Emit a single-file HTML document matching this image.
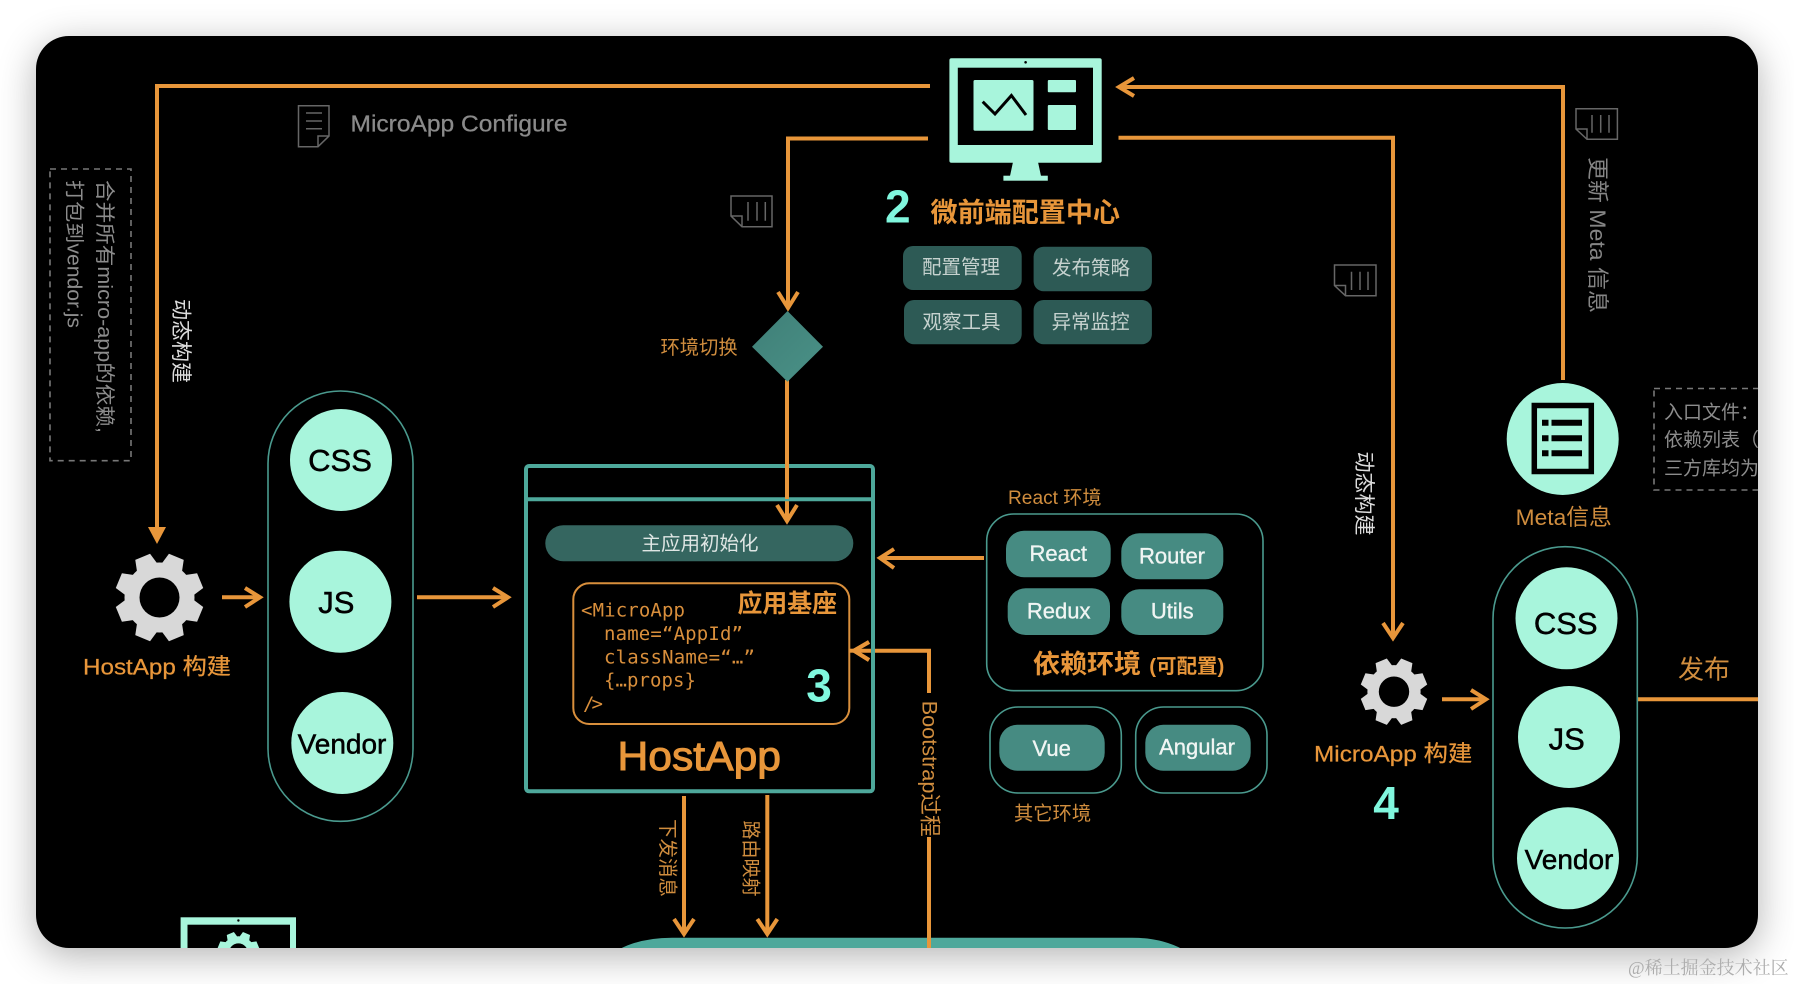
<!DOCTYPE html>
<html>
<head>
<meta charset="utf-8">
<style>
html,body{margin:0;padding:0;background:#fff;width:1794px;height:984px;overflow:hidden}
#panel{position:absolute;left:36px;top:36px;width:1722px;height:912px;background:#000;border-radius:33px;box-shadow:0 8px 38px rgba(0,0,0,.3);overflow:hidden}
#panel svg{position:absolute;left:-36px;top:-36px;filter:blur(.35px)}
#wm{position:absolute;left:1628px;top:954px;font:18px "Liberation Serif","Noto Serif CJK SC",serif;color:#adadad;white-space:nowrap}
text{font-family:"Liberation Sans","Noto Sans CJK SC",sans-serif}
.ln{fill:none;stroke:#e8963a;stroke-width:4}
.doc{fill:none;stroke:#666;stroke-width:1.5}
.oc{fill:#d08d3e}
.btn{fill:#468b82}
.bt{fill:#f0f5f3;font-size:22px;text-anchor:middle;stroke:#f0f5f3;stroke-width:.35}
.dk{fill:#2d5a55}
.dt{fill:#c6d2cf;font-size:19.5px;text-anchor:middle}
.mint{fill:#a8f5dc}
.ct{fill:#000;text-anchor:middle;stroke:#000;stroke-width:.5}
.big{fill:#80f7de;font-weight:bold;font-size:46px}
.code{font-family:"DejaVu Sans Mono","Liberation Mono",monospace;font-size:19px;fill:#d98f3c}
.org{fill:#e8963a}
.pill{fill:none;stroke:#4a9a8e;stroke-width:1.6}
</style>
</head>
<body>
<div id="panel">
<svg width="1794" height="984" viewBox="0 0 1794 984" xmlns="http://www.w3.org/2000/svg">
<defs>
<g id="gear">
<circle r="35"/>
<polygon points="-8,-44 8,-44 11.5,-30 -11.5,-30" transform="rotate(22.5)"/>
<polygon points="-8,-44 8,-44 11.5,-30 -11.5,-30" transform="rotate(67.5)"/>
<polygon points="-8,-44 8,-44 11.5,-30 -11.5,-30" transform="rotate(112.5)"/>
<polygon points="-8,-44 8,-44 11.5,-30 -11.5,-30" transform="rotate(157.5)"/>
<polygon points="-8,-44 8,-44 11.5,-30 -11.5,-30" transform="rotate(202.5)"/>
<polygon points="-8,-44 8,-44 11.5,-30 -11.5,-30" transform="rotate(247.5)"/>
<polygon points="-8,-44 8,-44 11.5,-30 -11.5,-30" transform="rotate(292.5)"/>
<polygon points="-8,-44 8,-44 11.5,-30 -11.5,-30" transform="rotate(337.5)"/>
<circle r="20" fill="#000"/>
</g>
<linearGradient id="dia" x1="0" y1="0" x2="1" y2="1"><stop offset="0" stop-color="#3f7f77"/><stop offset="1" stop-color="#4a9187"/></linearGradient>
</defs>

<!-- bottom band -->
<path d="M618 950 Q640 937.7 672 937.7 H1132 Q1162 937.7 1184 950 Z" fill="#4ea89b"/>

<!-- connectors -->
<polyline class="ln" points="930,86 157,86 157,530"/>
<polygon points="148,527 166,527 157,544" fill="#e8963a"/>
<polyline class="ln" points="928,138.5 788,138.5 788,308"/>
<polyline class="ln" points="778,292 788,308 798,292"/>
<line class="ln" x1="787" y1="380" x2="787" y2="520"/>
<polyline class="ln" points="777,505 787,521 797,505"/>
<polyline class="ln" points="1119,87 1563,87 1563,380"/>
<polyline class="ln" points="1134,78 1119,87 1134,96"/>
<polyline class="ln" points="1118.5,137.7 1393,137.7 1393,638"/>
<polyline class="ln" points="1383,623 1393,638 1403,623"/>
<line class="ln" x1="222" y1="597.3" x2="260" y2="597.3"/>
<polyline class="ln" points="245,588 260,597.3 245,607"/>
<line class="ln" x1="417" y1="597.3" x2="508" y2="597.3"/>
<polyline class="ln" points="493,588 508,597.3 493,607"/>
<line class="ln" x1="880" y1="558" x2="984" y2="558"/>
<polyline class="ln" points="894,549 880,558 894,568"/>
<polyline class="ln" points="854,650.7 929,650.7 929,693"/>
<polyline class="ln" points="869,642 854,650.7 869,660"/>
<line class="ln" x1="929" y1="837" x2="929" y2="950"/>
<line class="ln" x1="684" y1="796" x2="684" y2="934"/>
<polyline class="ln" points="674,919 684,934 694,919"/>
<line class="ln" x1="767.3" y1="795" x2="767.3" y2="934"/>
<polyline class="ln" points="757.3,919 767.3,934 777.3,919"/>
<line class="ln" x1="1442" y1="699.3" x2="1486" y2="699.3"/>
<polyline class="ln" points="1471,690 1486,699.3 1471,709"/>
<line class="ln" x1="1638" y1="699.3" x2="1760" y2="699.3"/>

<!-- main monitor -->
<rect x="949.4" y="58.3" width="152.3" height="104.4" rx="2" class="mint"/>
<polygon points="1013,162 1038,162 1041,176 1010,176" class="mint"/>
<rect x="1003.4" y="175.7" width="44.4" height="5" class="mint"/>
<rect x="957.8" y="67.7" width="135.2" height="77.3" fill="#000"/>
<circle cx="1025.6" cy="62.3" r="1.3" fill="#000"/>
<rect x="973.5" y="80" width="60" height="50.7" rx="1.5" class="mint"/>
<rect x="1047.8" y="80" width="28.2" height="12.3" rx="1" class="mint"/>
<rect x="1047.8" y="105" width="28.2" height="25" rx="1" class="mint"/>
<polyline points="982.7,101.7 995,114 1011.4,95.5 1026,115" fill="none" stroke="#000" stroke-width="3"/>

<!-- note icons -->
<path class="doc" d="M298.5 105.7H329V136L318 146.7H298.5Z M329 136H318V146.7 M306 113H322 M306 121H322 M306 128.7H322"/>
<path class="doc" d="M731 196H772V226.7H742L731 216Z M731 216H742V226.7 M748 202V220.7 M757 202V220.7 M765.3 202V220.7"/>
<path class="doc" d="M1576 108.7H1617.4V139.3H1587L1576 129Z M1576 129H1587V139.3 M1592 115V132.7 M1600.7 115V132.7 M1609 115V132.7"/>
<path class="doc" d="M1334.5 265H1376V295.7H1345.5L1334.5 285.5Z M1334.5 285.5H1345.5V295.7 M1351.5 271.7V290 M1360 271.7V290 M1368 271.7V290"/>

<text x="350.5" y="131.5" font-size="23.5" fill="#8a8a8a" stroke="#8a8a8a" stroke-width=".3" textLength="217" lengthAdjust="spacingAndGlyphs">MicroApp Configure</text>

<!-- left dashed box -->
<rect x="50" y="169" width="81" height="291.7" fill="none" stroke="#777" stroke-width="1.6" stroke-dasharray="6 5"/>
<text transform="translate(98,180) rotate(90)" font-size="20" fill="#8c8c8c" textLength="253" lengthAdjust="spacingAndGlyphs">合并所有micro-app的依赖,</text>
<text transform="translate(67.5,180) rotate(90)" font-size="20" fill="#8c8c8c" textLength="148" lengthAdjust="spacingAndGlyphs">打包到vendor.js</text>
<text transform="translate(174,299) rotate(90)" font-size="21" fill="#dcdcdc">动态构建</text>
<text transform="translate(1357,451.5) rotate(90)" font-size="21" fill="#dcdcdc">动态构建</text>
<text transform="translate(1590,157) rotate(90)" font-size="22" fill="#858585" textLength="156" lengthAdjust="spacingAndGlyphs">更新 Meta 信息</text>

<!-- title 2 -->
<text x="885" y="222.7" class="big">2</text>
<text x="930.5" y="222" font-size="27" font-weight="bold" class="org" textLength="189.5" lengthAdjust="spacingAndGlyphs">微前端配置中心</text>

<rect x="903" y="246" width="118.7" height="44" rx="10" class="dk"/>
<text x="961" y="273.5" class="dt">配置管理</text>
<rect x="1033.6" y="246.7" width="118.3" height="44.6" rx="10" class="dk"/>
<text x="1091" y="274.5" class="dt">发布策略</text>
<rect x="904" y="300" width="117.7" height="44.3" rx="10" class="dk"/>
<text x="961.5" y="328.5" class="dt">观察工具</text>
<rect x="1033.6" y="300" width="118.3" height="44.3" rx="10" class="dk"/>
<text x="1090.6" y="328.5" class="dt">异常监控</text>

<!-- diamond -->
<polygon points="787.5,311 823,346.7 787.5,381.7 752,346.7" fill="url(#dia)"/>
<text x="660.5" y="354" font-size="19.3" class="oc">环境切换</text>

<!-- meta -->
<circle cx="1562.7" cy="439" r="56" class="mint"/>
<rect x="1534.3" y="405.5" width="57" height="66" fill="none" stroke="#000" stroke-width="5.5"/>
<path d="M1542 419.7h6.5v6h-6.5z M1551.5 419.7h30.5v6h-30.5z M1542 435.3h6.5v6h-6.5z M1551.5 435.3h30.5v6h-30.5z M1542 450.3h6.5v6h-6.5z M1551.5 450.3h30.5v6h-30.5z" fill="#000"/>

<!-- right dashed box -->
<rect x="1654" y="388.5" width="150" height="101.5" fill="none" stroke="#777" stroke-width="1.6" stroke-dasharray="6 5"/>
<text x="1664" y="418.5" font-size="19" fill="#8c8c8c">入口文件：</text>
<text x="1664" y="446" font-size="19" fill="#8c8c8c">依赖列表（</text>
<text x="1664" y="474.5" font-size="19" fill="#8c8c8c">三方库均为</text>
<text x="1515.7" y="525" font-size="22.5" class="oc" textLength="96" lengthAdjust="spacingAndGlyphs">Meta信息</text>

<!-- left group -->
<use href="#gear" transform="translate(159.5,597.5)" fill="#d8d8d8"/>
<text x="83" y="674.7" font-size="22.5" class="org" stroke="#e8963a" stroke-width=".25" textLength="148" lengthAdjust="spacingAndGlyphs">HostApp 构建</text>
<rect x="268" y="391" width="145" height="430.3" rx="72.5" class="pill"/>
<circle cx="341" cy="460" r="51" class="mint"/>
<circle cx="340.4" cy="601.7" r="51" class="mint"/>
<circle cx="342.3" cy="743" r="51" class="mint"/>
<text x="340" y="471" font-size="31" class="ct">CSS</text>
<text x="336.3" y="613" font-size="31" class="ct">JS</text>
<text x="342" y="753.5" font-size="28" class="ct">Vendor</text>

<!-- bottom-left monitor -->
<rect x="180.6" y="917.3" width="115.4" height="60" class="mint"/>
<rect x="187.5" y="924.7" width="102.5" height="50" fill="#000"/>
<circle cx="238.4" cy="920.5" r="1.2" fill="#000"/>
<use href="#gear" transform="translate(238.4,953) scale(.48)" fill="#a8f5dc"/>

<!-- HostApp box -->
<rect x="526" y="466" width="347" height="325.3" rx="3" fill="none" stroke="#4ea89b" stroke-width="4"/>
<line x1="526" y1="499.3" x2="873" y2="499.3" stroke="#4ea89b" stroke-width="4"/>
<line class="ln" x1="787" y1="464" x2="787" y2="499"/>
<rect x="545.3" y="525.3" width="308" height="36" rx="18" fill="#356660"/>
<text x="700" y="550" font-size="19.5" fill="#dfe6e4" text-anchor="middle">主应用初始化</text>
<rect x="573.3" y="583.3" width="276" height="140.7" rx="16" fill="none" stroke="#d98f3c" stroke-width="2"/>
<line class="ln" x1="849" y1="650.7" x2="860" y2="650.7"/>
<polyline class="ln" points="869,642 854,650.7 869,660"/>
<text x="581" y="616.7" class="code" textLength="104">&lt;MicroApp</text>
<text x="604" y="640" class="code" textLength="139">name=“AppId”</text>
<text x="604" y="663.3" class="code" textLength="151">className=“…”</text>
<text x="604" y="686.7" class="code" textLength="92">{…props}</text>
<text x="583" y="710" class="code" font-size="21" letter-spacing="-3">/&gt;</text>
<text x="737.5" y="612" font-size="24.9" font-weight="bold" class="org">应用基座</text>
<text x="819" y="701.3" class="big" text-anchor="middle">3</text>
<text x="617.5" y="770" font-size="41" class="org" stroke="#e8963a" stroke-width="1" textLength="163.5" lengthAdjust="spacingAndGlyphs">HostApp</text>

<!-- Vertical labels -->
<text transform="translate(661,819) rotate(90)" font-size="19.5" class="oc">下发消息</text>
<text transform="translate(744.5,820.5) rotate(90)" font-size="19" class="oc">路由映射</text>
<text transform="translate(922.5,700.7) rotate(90)" font-size="21.7" class="oc" textLength="136" lengthAdjust="spacingAndGlyphs">Bootstrap过程</text>

<!-- deps -->
<text x="1008" y="504" font-size="19" class="oc" textLength="93.5" lengthAdjust="spacingAndGlyphs">React 环境</text>
<rect x="986.7" y="514" width="276.3" height="176.7" rx="27" class="pill"/>
<rect x="1006" y="530.7" width="104.7" height="46.6" rx="18" class="btn"/>
<text x="1058.3" y="561" class="bt">React</text>
<rect x="1121.3" y="533.3" width="102" height="46" rx="18" class="btn"/>
<text x="1172" y="563.5" class="bt">Router</text>
<rect x="1007.7" y="588.3" width="102.3" height="46.7" rx="18" class="btn"/>
<text x="1058.7" y="618.5" class="bt">Redux</text>
<rect x="1121.3" y="589.3" width="102" height="45.7" rx="18" class="btn"/>
<text x="1172.3" y="618.5" class="bt">Utils</text>
<text x="1033" y="673" font-size="26" font-weight="bold" class="org" textLength="108" lengthAdjust="spacingAndGlyphs">依赖环境</text>
<text x="1149.3" y="673" font-size="20" font-weight="bold" class="org" textLength="75" lengthAdjust="spacingAndGlyphs">(可配置)</text>

<rect x="990" y="707" width="131.3" height="86" rx="28" class="pill"/>
<rect x="999.3" y="724.7" width="105.4" height="46" rx="18" class="btn"/>
<text x="1051.7" y="756" class="bt">Vue</text>
<rect x="1135.7" y="707" width="131.3" height="86" rx="28" class="pill"/>
<rect x="1145.3" y="724.7" width="105.4" height="46" rx="18" class="btn"/>
<text x="1197" y="754.5" class="bt">Angular</text>
<text x="1014" y="820" font-size="19.3" class="oc">其它环境</text>

<!-- right group -->
<use href="#gear" transform="translate(1394,691.7) scale(.76)" fill="#d8d8d8"/>
<text x="1314" y="761.5" font-size="22.5" class="org" stroke="#e8963a" stroke-width=".25" textLength="158.3" lengthAdjust="spacingAndGlyphs">MicroApp 构建</text>
<text x="1386" y="819" class="big" text-anchor="middle">4</text>
<rect x="1493" y="546.7" width="144.3" height="381.3" rx="72" class="pill"/>
<circle cx="1566.5" cy="618.3" r="51" class="mint"/>
<circle cx="1569" cy="737" r="51" class="mint"/>
<circle cx="1568" cy="858.3" r="51" class="mint"/>
<text x="1565.7" y="634" font-size="31" class="ct">CSS</text>
<text x="1566.7" y="749.5" font-size="31" class="ct">JS</text>
<text x="1569" y="869" font-size="28" class="ct">Vendor</text>
<text x="1678" y="678.5" font-size="26" class="oc">发布</text>
</svg>
</div>
<div id="wm">@稀土掘金技术社区</div>
</body>
</html>
